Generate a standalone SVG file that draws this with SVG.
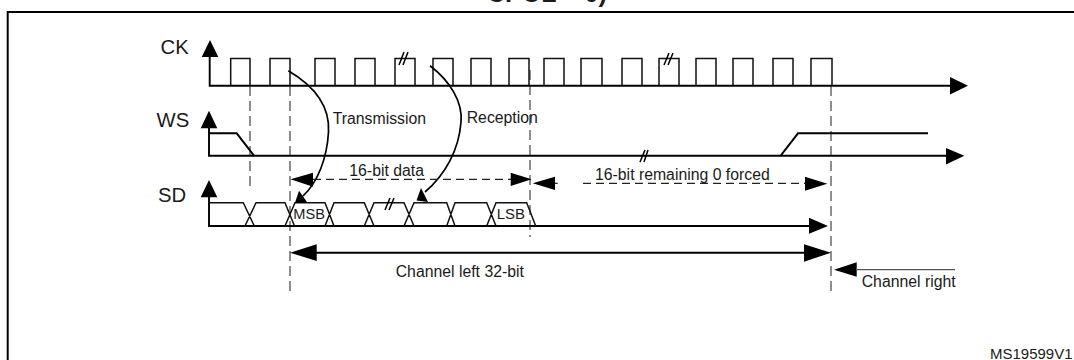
<svg xmlns="http://www.w3.org/2000/svg" width="1074" height="360" viewBox="0 0 1074 360">
<style>
text{font-family:"Liberation Sans",Arial,sans-serif;fill:#1a1a1a}
.l{font-size:15.8px}.s{font-size:20.3px}
.p{fill:none;stroke:#111;stroke-width:1.500}
.t{fill:none;stroke:#000;stroke-width:1.900}
.c{fill:none;stroke:#000;stroke-width:1.700}
.d{fill:none;stroke:#444;stroke-width:1.200;stroke-dasharray:10 5}
.h{fill:none;stroke:#222;stroke-width:1.300;stroke-dasharray:8 5}
.b{stroke:#000;stroke-width:1.500}
.f{fill:#000}
</style>
<rect width="1074" height="360" fill="#fff"/>
<g id="frame"><path d="M7.700 360V12H1074" fill="none" stroke="#000" stroke-width="2"/></g>
<text x="487" y="2" font-size="25" font-weight="700">CPOL = 0)</text>
<g id="guides">
<path class="d" d="M250 86V186"/>
<path class="d" d="M290 86V291"/>
<path class="d" d="M530 70V237"/>
<path class="d" d="M831 86V291"/>
</g>
<g id="ck"><text class="s" x="160.500" y="54">CK</text>
<path class="p" d="M230.700 86V58.500H250V86M270 86V58.500H290V86M315 86V58.500H335V86M355 86V58.500H375V86M395 86V58.500H415V86M433 86V58.500H453V86M471 86V58.500H491V86M509 86V58.500H529V86M544 86V58.500H564V86M581 86V58.500H602V86M622 86V58.500H642V86M659 86V58.500H679V86M696 86V58.500H716V86M733 86V58.500H753V86M773 86V58.500H793V86M811 86V58.500H832V86"/>
<path class="t" d="M209.700 50V85.700H952"/>
<path class="f" d="M210 40L218.300 57H201.700ZM950 77V94.500L968 85.700Z"/>
<path class="b" d="M399 65L404 52M403 65L408 52M664 65L669 53M668 65L673 53"/>
</g>
<g id="ws"><text class="s" x="156.500" y="126.700">WS</text>
<path class="t" d="M209 120V155.700H948M209 133.300H236.700L254 155.700M780.700 155.700L798 133.300H928"/>
<path class="f" d="M209 110.700L217.300 128.300H200.700ZM946 148V164.500L964.300 155.700Z"/>
<path class="b" d="M640 162L645 150M644 162L648 150"/>
</g>
<g id="sd"><text class="s" x="158" y="201.700">SD</text>
<path class="t" d="M209 190V226H812"/>
<path class="p" d="M209 202.700H243.300L254.300 226M245 226L256 202.700H285L294.500 226M285 226L295 202.700H325L334 226M325 226L334 202.700H364.300L374 226M364.300 226L374 202.700H404L414 226M404 226L414 202.700H446.700L455 226M446.700 226L455 202.700H486.700L496 226M486.700 226L496 202.700H526.700L535.700 226"/>
<path class="f" d="M209 180L217.300 197.300H200.700ZM809 217.700V233.700L828 226Z"/>
<path class="b" d="M385 210L390 198M389 210L394 198"/>
<text x="293.300" y="219.300" font-size="14.600">MSB</text><text x="496.700" y="219.300" font-size="15">LSB</text>
</g>
<g id="connectors">
<path class="c" d="M288.300 70.700C316 87 330 108 328.500 132C327 158 318 182 303 196"/>
<path class="f" d="M295 202.700L299 190.700L307.700 203Z"/>
<path class="c" d="M430 65.700C450 81 463 102 461 122C459 150 445 175 425 192"/>
<path class="f" d="M416.500 200.500L421 188L428 202Z"/>
<path class="h" d="M313 179.300H511M583 183.300H805"/>
<path class="f" d="M290.500 179.300L313 172.700V186.700ZM531.700 179.300L510.700 172.700V186ZM532.700 183.300L555 176.700V190Z"/>
<path class="f" d="M827.300 183.700L805 176.700V190.700Z"/>
<path d="M555 183.300H557.700" stroke="#222" stroke-width="1.300"/>
<path class="t" d="M316 252.700H805"/>
<path class="f" d="M290 252.700L316.700 244.300V261ZM831 252.700L804 244.300V261.700ZM834 269.700L856.700 262.300V276.700Z"/>
<path d="M856 269.700H955" stroke="#555" stroke-width="1.300" fill="none"/>
</g>
<g id="labels">
<text class="l" x="332.700" y="124" font-size="15.600">Transmission</text>
<text class="l" x="466.700" y="122.700">Reception</text>
<text class="l" x="349.300" y="176">16-bit data</text>
<text class="l" x="595" y="180">16-bit remaining 0 forced</text>
<text class="l" x="395.700" y="276.700">Channel left 32-bit</text>
<text class="l" x="861.700" y="286.700">Channel right</text>
<text x="990" y="359" font-size="15">MS19599V1</text>
</g>
</svg>
